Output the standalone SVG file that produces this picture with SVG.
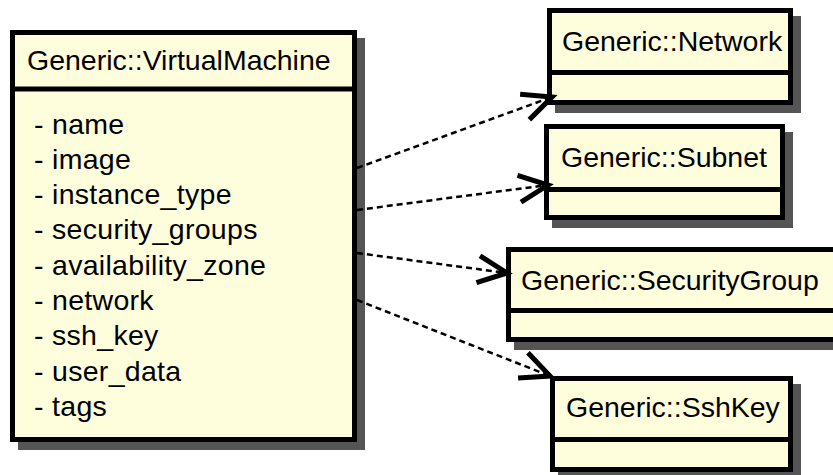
<svg xmlns="http://www.w3.org/2000/svg" width="833" height="475" viewBox="0 0 833 475">
  <style>
    .shadow { fill: #555555; stroke: none; }
    .box { fill: #FEFEDD; stroke: #000000; stroke-width: 5; }
    .sep { stroke: #000000; stroke-width: 5; }
    .label { font-family: "Liberation Sans", Arial, sans-serif; font-size: 28.5px; fill: #000000; }
    .attr { letter-spacing: 0.3px; }
    .dep { fill: none; stroke: #000000; stroke-width: 2.5; stroke-dasharray: 6 4; }
  </style>
  <defs>
    <marker id="open-arrow" markerUnits="userSpaceOnUse" markerWidth="60" markerHeight="60" viewBox="-40 -30 60 60" refX="0" refY="0" orient="auto" overflow="visible">
      <path d="M-29,-13.5 L0,0 L-29,13.5" fill="none" stroke="#000000" stroke-width="5" stroke-dasharray="none" stroke-linejoin="miter"/>
    </marker>
  </defs>
  <rect width="833" height="475" fill="#FFFFFF"/>

  <!-- class: Generic::VirtualMachine -->
  <g id="vm">
    <rect class="shadow" x="18" y="38" width="347" height="412"/>
    <rect class="box" x="12.5" y="32.5" width="342" height="407"/>
    <line class="sep" x1="12.5" y1="89" x2="354.5" y2="89"/>
    <text class="label" x="27" y="70">Generic::VirtualMachine</text>
    <text class="label attr" x="34" y="134">- name</text>
    <text class="label attr" x="34" y="169">- image</text>
    <text class="label attr" x="34" y="204">- instance_type</text>
    <text class="label attr" x="34" y="239">- security_groups</text>
    <text class="label attr" x="34" y="275">- availability_zone</text>
    <text class="label attr" x="34" y="310">- network</text>
    <text class="label attr" x="34" y="345">- ssh_key</text>
    <text class="label attr" x="34" y="381">- user_data</text>
    <text class="label attr" x="34" y="416">- tags</text>
  </g>

  <!-- class: Generic::Network -->
  <g id="network">
    <rect class="shadow" x="555" y="16" width="246" height="97"/>
    <rect class="box" x="549.5" y="10.5" width="241" height="92"/>
    <line class="sep" x1="549.5" y1="72.5" x2="790.5" y2="72.5"/>
    <text class="label" x="562" y="51">Generic::Network</text>
  </g>

  <!-- class: Generic::Subnet -->
  <g id="subnet">
    <rect class="shadow" x="552" y="132" width="241" height="96"/>
    <rect class="box" x="546.5" y="126.5" width="236" height="91"/>
    <line class="sep" x1="546.5" y1="189.5" x2="782.5" y2="189.5"/>
    <text class="label" x="561" y="167">Generic::Subnet</text>
  </g>

  <!-- class: Generic::SecurityGroup -->
  <g id="security-group">
    <rect class="shadow" x="514" y="255" width="345" height="95"/>
    <rect class="box" x="508.5" y="249.5" width="340" height="90"/>
    <line class="sep" x1="508.5" y1="310.5" x2="848.5" y2="310.5"/>
    <text class="label" x="521" y="290">Generic::SecurityGroup</text>
  </g>

  <!-- class: Generic::SshKey -->
  <g id="ssh-key">
    <rect class="shadow" x="558" y="384" width="243" height="96"/>
    <rect class="box" x="552.5" y="378.5" width="238" height="91"/>
    <line class="sep" x1="552.5" y1="439.5" x2="790.5" y2="439.5"/>
    <text class="label" x="566" y="417">Generic::SshKey</text>
  </g>

  <!-- dependencies -->
  <g id="connectors">
    <line class="dep" x1="357" y1="168" x2="552" y2="97" marker-end="url(#open-arrow)"/>
    <line class="dep" x1="357" y1="210" x2="548" y2="185" marker-end="url(#open-arrow)"/>
    <line class="dep" x1="357" y1="253" x2="507" y2="273" marker-end="url(#open-arrow)"/>
    <line class="dep" x1="357" y1="300" x2="550" y2="376" marker-end="url(#open-arrow)"/>
  </g>
</svg>
